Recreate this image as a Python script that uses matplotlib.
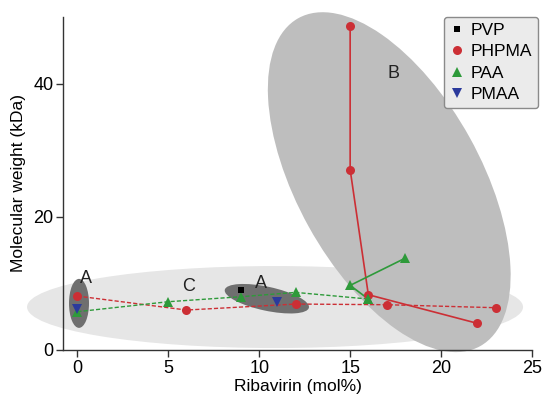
import matplotlib
matplotlib.use("Agg")
import matplotlib.pyplot as plt
from matplotlib.patches import Ellipse
from matplotlib.lines import Line2D
from matplotlib.transforms import ScaledTranslation

plt.rcParams["font.family"] = ["Liberation Sans", "DejaVu Sans"]

# ── data ─────────────────────────────────────────────────────────────────────
# PHPMA, low-MW series (dashed)
phpma_dash_x = [0, 6, 12, 17, 23]
phpma_dash_y = [8.1, 6.0, 6.9, 6.8, 6.35]
# PHPMA, high-MW series (solid)
phpma_solid_x = [15, 15, 16, 22]
phpma_solid_y = [48.7, 27.1, 8.3, 4.0]
# PAA, dashed series
paa_dash_x = [0, 5, 9, 12, 16]
paa_dash_y = [5.75, 7.25, 8.0, 8.65, 7.65]
# PAA, solid series
paa_solid_x = [18, 15, 16]
paa_solid_y = [13.75, 9.7, 7.65]
# PVP
pvp_x = [9]
pvp_y = [9.0]
# PMAA
pmaa_x = [0, 11]
pmaa_y = [6.1, 7.25]

X_TICKS = [0, 5, 10, 15, 20, 25]
Y_TICKS = [0, 20, 40]

RED = "#cc2f35"
GREEN = "#2e9a3a"
BLUE = "#2b3a9c"

# region ellipses: (label, centre x, centre y, width px, height px, angle, colour)
REGIONS = [
    ("C", 10.87, 6.45, 496, 82, 0, "#e6e6e6"),
    ("B", 17.15, 25.2, 375, 184, 119, "#bebebe"),
    ("A", 0.09, 7.0, 20, 49, 0, "#6f6f6f"),
    ("A", 10.42, 7.7, 86, 24, -12, "#6f6f6f"),
]
REGION_LABELS = [("A", 0.5, 10.8), ("C", 6.1, 9.5), ("A", 10.1, 10.0), ("B", 17.4, 41.5)]

MS_CIRCLE = 6.5
MS_TRI = 7.5
MS_SQ = 5

fig = plt.figure(figsize=(5.44, 3.99), dpi=100)
ax = fig.add_axes([63 / 544, 49 / 399, (532 - 63) / 544, (350 - 17) / 399])
ax.set_xlim(-0.79, 25)
ax.set_ylim(0, 50)

# ellipses sized in pixels so they look as in the original
for _, cx, cy, w, h, ang, col in REGIONS:
    tr = fig.dpi_scale_trans + ScaledTranslation(cx, cy, ax.transData)
    e = Ellipse((0, 0), w / 100, h / 100, angle=ang, transform=tr,
                facecolor=col, edgecolor="none", clip_on=False, zorder=1)
    ax.add_patch(e)

for txt, tx, ty in REGION_LABELS:
    ax.text(tx, ty, txt, fontsize=13, ha="center", va="center", color="#222222", zorder=5)

# lines
ax.plot(phpma_dash_x, phpma_dash_y, color=RED, lw=1.0, ls=(0, (3, 1.5)), zorder=3)
ax.plot(paa_dash_x, paa_dash_y, color=GREEN, lw=1.0, ls=(0, (3, 1.5)), zorder=3)
ax.plot(phpma_solid_x, phpma_solid_y, color=RED, lw=1.2, zorder=3)
ax.plot(paa_solid_x, paa_solid_y, color=GREEN, lw=1.2, zorder=3)

# markers
mk = dict(ls="none", zorder=4, markeredgewidth=0)
ax.plot(phpma_dash_x, phpma_dash_y, marker="o", ms=MS_CIRCLE, color=RED, **mk)
ax.plot(phpma_solid_x, phpma_solid_y, marker="o", ms=MS_CIRCLE, color=RED, **mk)
ax.plot(paa_dash_x, paa_dash_y, marker="^", ms=MS_TRI, color=GREEN, **mk)
ax.plot(paa_solid_x, paa_solid_y, marker="^", ms=MS_TRI, color=GREEN, **mk)
ax.plot(pvp_x, pvp_y, marker="s", ms=MS_SQ, color="black", **mk)
ax.plot(pmaa_x, pmaa_y, marker="v", ms=MS_TRI, color=BLUE, **mk)

# axes styling
for side in ["top", "right"]:
    ax.spines[side].set_visible(False)
for side in ["left", "bottom"]:
    ax.spines[side].set_color("#333333")
    ax.spines[side].set_linewidth(1.0)
ax.patch.set_alpha(0)
ax.set_xticks(X_TICKS)
ax.set_yticks(Y_TICKS)
ax.tick_params(direction="out", length=5, width=1, color="#333333",
               labelsize=13, pad=2)
ax.set_xlabel("Ribavirin (mol%)", fontsize=12.5, labelpad=2)
ax.set_ylabel("Molecular weight (kDa)", fontsize=12.5, labelpad=5)

handles = [
    Line2D([], [], ls="none", marker="s", ms=MS_SQ, color="black", markeredgewidth=0),
    Line2D([], [], ls="none", marker="o", ms=MS_CIRCLE, color=RED, markeredgewidth=0),
    Line2D([], [], ls="none", marker="^", ms=MS_TRI, color=GREEN, markeredgewidth=0),
    Line2D([], [], ls="none", marker="v", ms=MS_TRI, color=BLUE, markeredgewidth=0),
]
leg = fig.legend(handles, ["PVP", "PHPMA", "PAA", "PMAA"], loc="upper right",
                 bbox_to_anchor=(538 / 544, 1 - 17 / 399), fontsize=12.5,
                 handlelength=0.8, handletextpad=0.4, labelspacing=0.35,
                 borderpad=0.35, borderaxespad=0, fancybox=True, framealpha=1)
leg.get_frame().set_facecolor("#ebebeb")
leg.get_frame().set_edgecolor("#8a8a8a")

fig.savefig("out.png", dpi=100)
